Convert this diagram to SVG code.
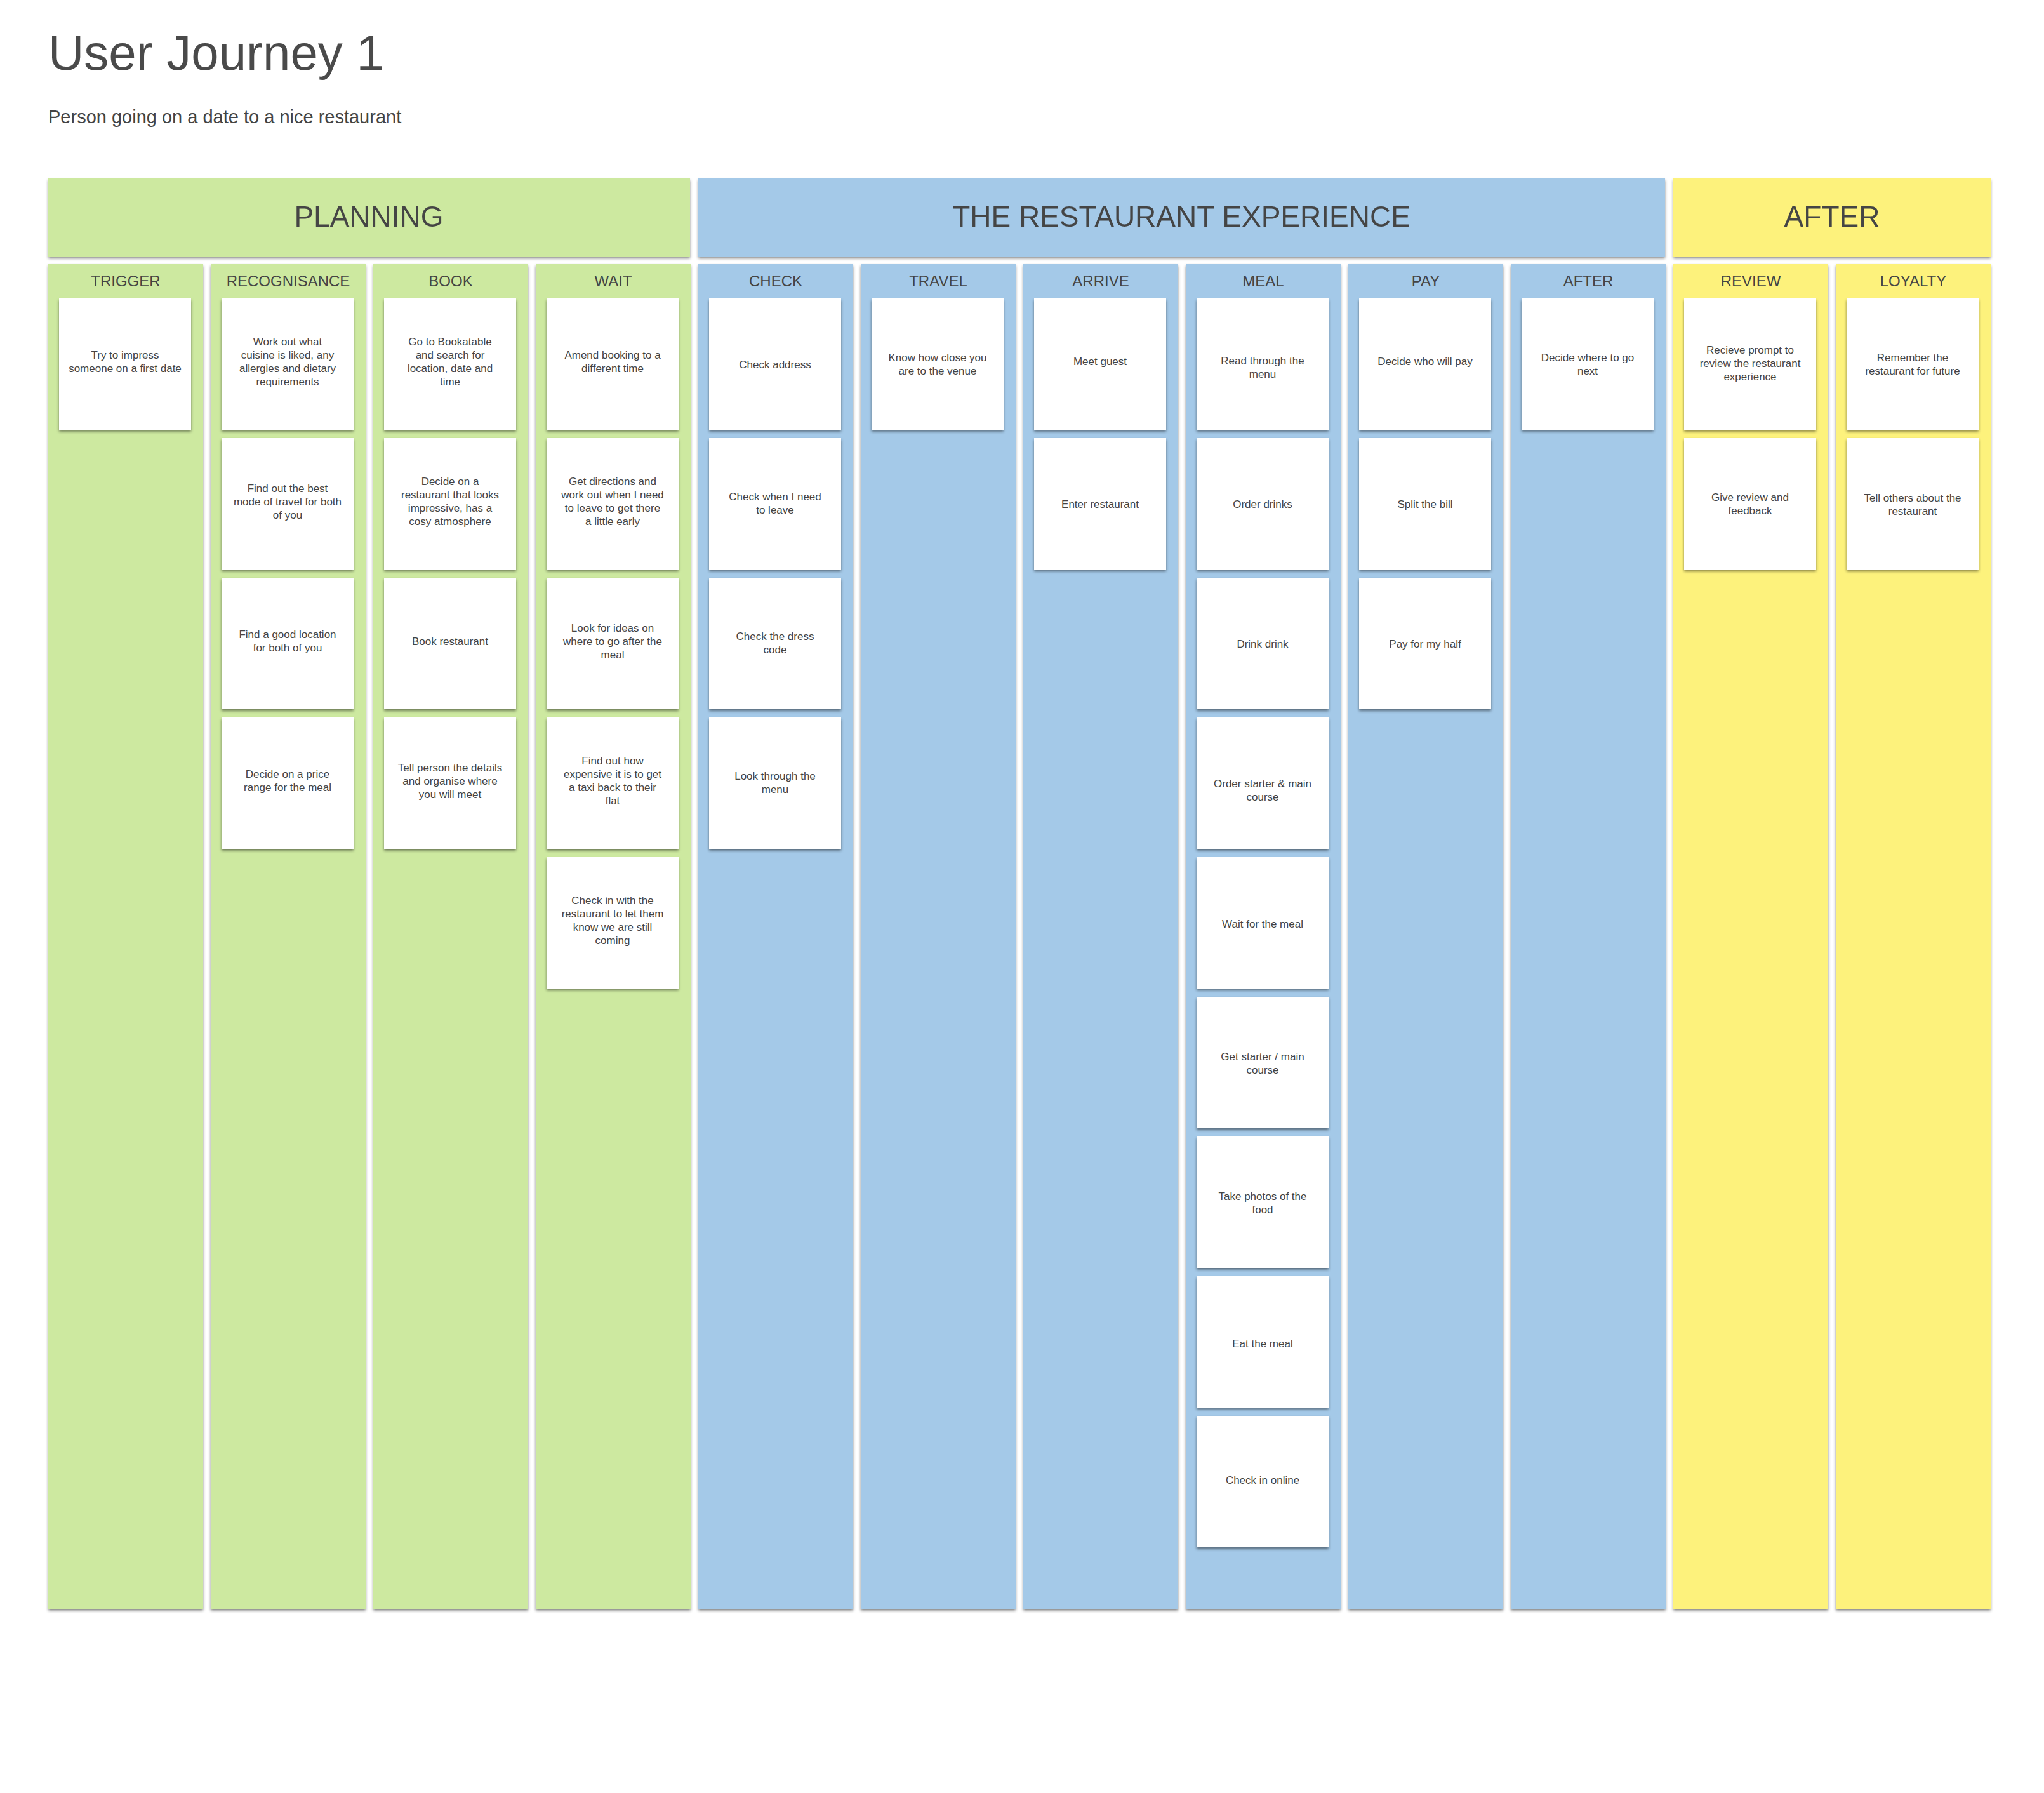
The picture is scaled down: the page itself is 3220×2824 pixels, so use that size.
<svg xmlns="http://www.w3.org/2000/svg" width="3220" height="2824" viewBox="0 0 3220 2824">
<style>
text{font-family:"Liberation Sans",Arial,sans-serif;fill:#444;text-anchor:middle}
.g{fill:#cde9a0}.b{fill:#a4c9e8}.y{fill:#fdf27c}
.card{fill:#fff}
.ct{font-size:17px}
.ch{font-size:24px}
.hh{font-size:46px}
</style>
<defs>
<filter id="sh" x="-10%" y="-10%" width="120%" height="120%"><feDropShadow dx="0" dy="3" stdDeviation="2" flood-color="#000" flood-opacity="0.45"/></filter>
</defs>
<rect width="3220" height="2824" fill="#fff"/>
<text x="76" y="110" style="font-size:78px;text-anchor:start;fill:#4a4a4a">User Journey 1</text>
<text x="76" y="194" style="font-size:29px;text-anchor:start">Person going on a date to a nice restaurant</text>
<g id="band-planning" filter="url(#sh)"><rect class="g" x="76" y="281" width="1011" height="123"/><text class="hh" x="581" y="357">PLANNING</text></g>
<g id="band-restaurant" filter="url(#sh)"><rect class="b" x="1100" y="281" width="1523" height="123"/><text class="hh" x="1861" y="357">THE RESTAURANT EXPERIENCE</text></g>
<g id="band-after" filter="url(#sh)"><rect class="y" x="2636" y="281" width="500" height="123"/><text class="hh" x="2886" y="357">AFTER</text></g>
<g id="col-trigger"><rect class="g" filter="url(#sh)" x="76" y="416" width="244" height="2118"/><text class="ch" x="198" y="451">TRIGGER</text>
<rect class="card" filter="url(#sh)" x="93" y="470" width="208" height="207"/><text class="ct" x="197" y="565">Try to impress</text><text class="ct" x="197" y="586">someone on a first date</text></g>
<g id="col-recognisance"><rect class="g" filter="url(#sh)" x="332" y="416" width="244" height="2118"/><text class="ch" x="454" y="451">RECOGNISANCE</text>
<rect class="card" filter="url(#sh)" x="349" y="470" width="208" height="207"/><text class="ct" x="453" y="544">Work out what</text><text class="ct" x="453" y="565">cuisine is liked, any</text><text class="ct" x="453" y="586">allergies and dietary</text><text class="ct" x="453" y="607">requirements</text>
<rect class="card" filter="url(#sh)" x="349" y="690" width="208" height="207"/><text class="ct" x="453" y="775">Find out the best</text><text class="ct" x="453" y="796">mode of travel for both</text><text class="ct" x="453" y="817">of you</text>
<rect class="card" filter="url(#sh)" x="349" y="910" width="208" height="207"/><text class="ct" x="453" y="1005">Find a good location</text><text class="ct" x="453" y="1026">for both of you</text>
<rect class="card" filter="url(#sh)" x="349" y="1130" width="208" height="207"/><text class="ct" x="453" y="1225">Decide on a price</text><text class="ct" x="453" y="1246">range for the meal</text></g>
<g id="col-book"><rect class="g" filter="url(#sh)" x="588" y="416" width="244" height="2118"/><text class="ch" x="710" y="451">BOOK</text>
<rect class="card" filter="url(#sh)" x="605" y="470" width="208" height="207"/><text class="ct" x="709" y="544">Go to Bookatable</text><text class="ct" x="709" y="565">and search for</text><text class="ct" x="709" y="586">location, date and</text><text class="ct" x="709" y="607">time</text>
<rect class="card" filter="url(#sh)" x="605" y="690" width="208" height="207"/><text class="ct" x="709" y="764">Decide on a</text><text class="ct" x="709" y="785">restaurant that looks</text><text class="ct" x="709" y="806">impressive, has a</text><text class="ct" x="709" y="827">cosy atmosphere</text>
<rect class="card" filter="url(#sh)" x="605" y="910" width="208" height="207"/><text class="ct" x="709" y="1016">Book restaurant</text>
<rect class="card" filter="url(#sh)" x="605" y="1130" width="208" height="207"/><text class="ct" x="709" y="1215">Tell person the details</text><text class="ct" x="709" y="1236">and organise where</text><text class="ct" x="709" y="1257">you will meet</text></g>
<g id="col-wait"><rect class="g" filter="url(#sh)" x="844" y="416" width="244" height="2118"/><text class="ch" x="966" y="451">WAIT</text>
<rect class="card" filter="url(#sh)" x="861" y="470" width="208" height="207"/><text class="ct" x="965" y="565">Amend booking to a</text><text class="ct" x="965" y="586">different time</text>
<rect class="card" filter="url(#sh)" x="861" y="690" width="208" height="207"/><text class="ct" x="965" y="764">Get directions and</text><text class="ct" x="965" y="785">work out when I need</text><text class="ct" x="965" y="806">to leave to get there</text><text class="ct" x="965" y="827">a little early</text>
<rect class="card" filter="url(#sh)" x="861" y="910" width="208" height="207"/><text class="ct" x="965" y="995">Look for ideas on</text><text class="ct" x="965" y="1016">where to go after the</text><text class="ct" x="965" y="1037">meal</text>
<rect class="card" filter="url(#sh)" x="861" y="1130" width="208" height="207"/><text class="ct" x="965" y="1204">Find out how</text><text class="ct" x="965" y="1225">expensive it is to get</text><text class="ct" x="965" y="1246">a taxi back to their</text><text class="ct" x="965" y="1267">flat</text>
<rect class="card" filter="url(#sh)" x="861" y="1350" width="208" height="207"/><text class="ct" x="965" y="1424">Check in with the</text><text class="ct" x="965" y="1445">restaurant to let them</text><text class="ct" x="965" y="1466">know we are still</text><text class="ct" x="965" y="1487">coming</text></g>
<g id="col-check"><rect class="b" filter="url(#sh)" x="1100" y="416" width="244" height="2118"/><text class="ch" x="1222" y="451">CHECK</text>
<rect class="card" filter="url(#sh)" x="1117" y="470" width="208" height="207"/><text class="ct" x="1221" y="580">Check address</text>
<rect class="card" filter="url(#sh)" x="1117" y="690" width="208" height="207"/><text class="ct" x="1221" y="788">Check when I need</text><text class="ct" x="1221" y="809">to leave</text>
<rect class="card" filter="url(#sh)" x="1117" y="910" width="208" height="207"/><text class="ct" x="1221" y="1008">Check the dress</text><text class="ct" x="1221" y="1029">code</text>
<rect class="card" filter="url(#sh)" x="1117" y="1130" width="208" height="207"/><text class="ct" x="1221" y="1228">Look through the</text><text class="ct" x="1221" y="1249">menu</text></g>
<g id="col-travel"><rect class="b" filter="url(#sh)" x="1356" y="416" width="244" height="2118"/><text class="ch" x="1478" y="451">TRAVEL</text>
<rect class="card" filter="url(#sh)" x="1373" y="470" width="208" height="207"/><text class="ct" x="1477" y="569">Know how close you</text><text class="ct" x="1477" y="590">are to the venue</text></g>
<g id="col-arrive"><rect class="b" filter="url(#sh)" x="1612" y="416" width="244" height="2118"/><text class="ch" x="1734" y="451">ARRIVE</text>
<rect class="card" filter="url(#sh)" x="1629" y="470" width="208" height="207"/><text class="ct" x="1733" y="575">Meet guest</text>
<rect class="card" filter="url(#sh)" x="1629" y="690" width="208" height="207"/><text class="ct" x="1733" y="800">Enter restaurant</text></g>
<g id="col-meal"><rect class="b" filter="url(#sh)" x="1868" y="416" width="244" height="2118"/><text class="ch" x="1990" y="451">MEAL</text>
<rect class="card" filter="url(#sh)" x="1885" y="470" width="208" height="207"/><text class="ct" x="1989" y="574">Read through the</text><text class="ct" x="1989" y="595">menu</text>
<rect class="card" filter="url(#sh)" x="1885" y="690" width="208" height="207"/><text class="ct" x="1989" y="800">Order drinks</text>
<rect class="card" filter="url(#sh)" x="1885" y="910" width="208" height="207"/><text class="ct" x="1989" y="1020">Drink drink</text>
<rect class="card" filter="url(#sh)" x="1885" y="1130" width="208" height="207"/><text class="ct" x="1989" y="1240">Order starter &amp; main</text><text class="ct" x="1989" y="1261">course</text>
<rect class="card" filter="url(#sh)" x="1885" y="1350" width="208" height="207"/><text class="ct" x="1989" y="1461">Wait for the meal</text>
<rect class="card" filter="url(#sh)" x="1885" y="1570" width="208" height="207"/><text class="ct" x="1989" y="1670">Get starter / main</text><text class="ct" x="1989" y="1691">course</text>
<rect class="card" filter="url(#sh)" x="1885" y="1790" width="208" height="207"/><text class="ct" x="1989" y="1890">Take photos of the</text><text class="ct" x="1989" y="1911">food</text>
<rect class="card" filter="url(#sh)" x="1885" y="2010" width="208" height="207"/><text class="ct" x="1989" y="2122">Eat the meal</text>
<rect class="card" filter="url(#sh)" x="1885" y="2230" width="208" height="207"/><text class="ct" x="1989" y="2337">Check in online</text></g>
<g id="col-pay"><rect class="b" filter="url(#sh)" x="2124" y="416" width="244" height="2118"/><text class="ch" x="2246" y="451">PAY</text>
<rect class="card" filter="url(#sh)" x="2141" y="470" width="208" height="207"/><text class="ct" x="2245" y="575">Decide who will pay</text>
<rect class="card" filter="url(#sh)" x="2141" y="690" width="208" height="207"/><text class="ct" x="2245" y="800">Split the bill</text>
<rect class="card" filter="url(#sh)" x="2141" y="910" width="208" height="207"/><text class="ct" x="2245" y="1020">Pay for my half</text></g>
<g id="col-after"><rect class="b" filter="url(#sh)" x="2380" y="416" width="244" height="2118"/><text class="ch" x="2502" y="451">AFTER</text>
<rect class="card" filter="url(#sh)" x="2397" y="470" width="208" height="207"/><text class="ct" x="2501" y="569">Decide where to go</text><text class="ct" x="2501" y="590">next</text></g>
<g id="col-review"><rect class="y" filter="url(#sh)" x="2636" y="416" width="244" height="2118"/><text class="ch" x="2758" y="451">REVIEW</text>
<rect class="card" filter="url(#sh)" x="2653" y="470" width="208" height="207"/><text class="ct" x="2757" y="557">Recieve prompt to</text><text class="ct" x="2757" y="578">review the restaurant</text><text class="ct" x="2757" y="599">experience</text>
<rect class="card" filter="url(#sh)" x="2653" y="690" width="208" height="207"/><text class="ct" x="2757" y="789">Give review and</text><text class="ct" x="2757" y="810">feedback</text></g>
<g id="col-loyalty"><rect class="y" filter="url(#sh)" x="2892" y="416" width="244" height="2118"/><text class="ch" x="3014" y="451">LOYALTY</text>
<rect class="card" filter="url(#sh)" x="2909" y="470" width="208" height="207"/><text class="ct" x="3013" y="569">Remember the</text><text class="ct" x="3013" y="590">restaurant for future</text>
<rect class="card" filter="url(#sh)" x="2909" y="690" width="208" height="207"/><text class="ct" x="3013" y="790">Tell others about the</text><text class="ct" x="3013" y="811">restaurant</text></g>
<g id="connectors"/>
</svg>
